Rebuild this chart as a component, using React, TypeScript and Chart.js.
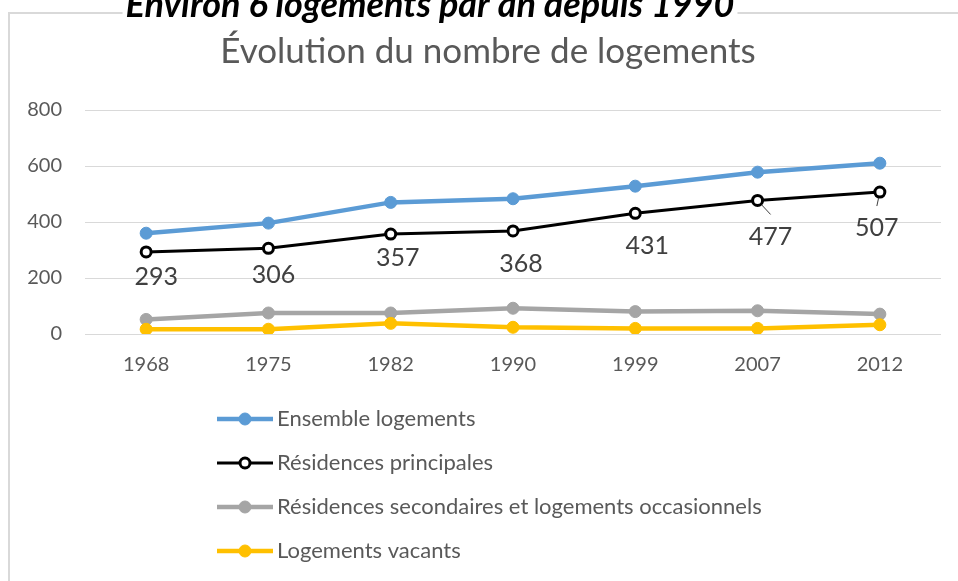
import React, { useEffect, useRef } from "react";
import { Chart, registerables } from "chart.js";

Chart.register(...registerables);

// ---- data ----
const years = ["1968", "1975", "1982", "1990", "1999", "2007", "2012"];
const ensemble = [360, 396, 470, 483, 528, 578, 610];
const principales = [293, 306, 357, 368, 431, 477, 507];
const secondaires = [52, 75, 75, 92, 80, 83, 71];
const vacants = [17, 17, 38, 24, 20, 20, 33];
const yTickValues = [0, 200, 400, 600, 800];
const seriesNames = [
  "Ensemble logements",
  "Résidences principales",
  "Résidences secondaires et logements occasionnels",
  "Logements vacants",
];
const supTitle = "Environ 6 logements par an depuis 1990";
const chartTitle = "Évolution du nombre de logements";

// label placement (relative to point), kept apart from the data
const labelOffsets = [
  [10, 25],
  [5, 27],
  [7, 24],
  [8, 33],
  [12, 33],
  [13, 36],
  [-3, 36],
];
const labelLeaders = [false, false, false, false, false, true, true];

const FONT = "Lato, 'Noto Sans', sans-serif";
const GREY_TEXT = "#595959";

const overlayPlugin = {
  id: "overlay",
  beforeDraw(chart: any) {
    const ctx = chart.ctx as CanvasRenderingContext2D;
    ctx.save();
    ctx.fillStyle = "#ffffff";
    ctx.fillRect(0, 0, chart.width, chart.height);
    // chart frame
    ctx.strokeStyle = "#d9d9d9";
    ctx.lineWidth = 2;
    ctx.beginPath();
    ctx.moveTo(9, chart.height);
    ctx.lineTo(9, 13);
    ctx.lineTo(chart.width, 13);
    ctx.stroke();
    // super title
    ctx.font = `italic bold 36px ${FONT}`;
    const w = ctx.measureText(supTitle).width;
    const cx = 430;
    ctx.fillStyle = "#ffffff";
    ctx.fillRect(cx - w / 2 - 3, 0, w + 6, 16);
    ctx.fillStyle = "#000000";
    ctx.textAlign = "center";
    ctx.textBaseline = "alphabetic";
    ctx.fillText(supTitle, cx, 17);
    // chart title
    ctx.font = `35px ${FONT}`;
    ctx.fillStyle = GREY_TEXT;
    ctx.fillText(chartTitle, 488, 63);
    ctx.restore();
  },
  afterDatasetsDraw(chart: any) {
    const ctx = chart.ctx as CanvasRenderingContext2D;
    const meta = chart.getDatasetMeta(1);
    ctx.save();
    ctx.font = `25px ${FONT}`;
    ctx.fillStyle = "#404040";
    ctx.textAlign = "center";
    ctx.textBaseline = "middle";
    meta.data.forEach((pt: any, i: number) => {
      const [dx, dy] = labelOffsets[i];
      const lx = pt.x + dx;
      const ly = pt.y + dy;
      ctx.fillText(String(principales[i]), lx, ly);
      if (labelLeaders[i]) {
        const ex = lx;
        const ey = ly - 22;
        const vx = ex - pt.x;
        const vy = ey - pt.y;
        const len = Math.hypot(vx, vy) || 1;
        ctx.strokeStyle = "#404040";
        ctx.lineWidth = 1;
        ctx.beginPath();
        ctx.moveTo(pt.x + (vx / len) * 6, pt.y + (vy / len) * 6);
        ctx.lineTo(ex, ey);
        ctx.stroke();
      }
    });
    ctx.restore();
  },
  afterDraw(chart: any) {
    const ctx = chart.ctx as CanvasRenderingContext2D;
    ctx.save();
    const datasets = chart.data.datasets;
    datasets.forEach((ds: any, i: number) => {
      const y = 419 + i * 44;
      ctx.strokeStyle = ds.borderColor;
      ctx.lineWidth = ds.borderWidth;
      ctx.beginPath();
      ctx.moveTo(217, y);
      ctx.lineTo(273, y);
      ctx.stroke();
      ctx.beginPath();
      ctx.arc(245, y, ds.pointRadius, 0, Math.PI * 2);
      ctx.fillStyle = ds.pointBackgroundColor;
      ctx.fill();
      ctx.lineWidth = ds.pointBorderWidth;
      ctx.strokeStyle = ds.pointBorderColor;
      ctx.stroke();
      ctx.font = `22px ${FONT}`;
      ctx.fillStyle = GREY_TEXT;
      ctx.textAlign = "left";
      ctx.textBaseline = "middle";
      ctx.fillText(ds.label, 277, y);
    });
    ctx.restore();
  },
};

export default function App() {
  const ref = useRef<HTMLCanvasElement | null>(null);

  useEffect(() => {
    if (!ref.current) return;
    const chart = new Chart(ref.current, {
      type: "line",
      data: {
        labels: years,
        datasets: [
          {
            label: seriesNames[0],
            data: ensemble,
            borderColor: "#5B9BD5",
            backgroundColor: "#5B9BD5",
            borderWidth: 4.5,
            pointRadius: 6,
            pointBackgroundColor: "#5B9BD5",
            pointBorderColor: "#5B9BD5",
            pointBorderWidth: 1,
            tension: 0,
            order: 3,
          },
          {
            label: seriesNames[1],
            data: principales,
            borderColor: "#000000",
            backgroundColor: "#ffffff",
            borderWidth: 3,
            pointRadius: 5,
            pointBackgroundColor: "#ffffff",
            pointBorderColor: "#000000",
            pointBorderWidth: 3,
            tension: 0,
            order: 2,
          },
          {
            label: seriesNames[2],
            data: secondaires,
            borderColor: "#A5A5A5",
            backgroundColor: "#A5A5A5",
            borderWidth: 4.5,
            pointRadius: 6,
            pointBackgroundColor: "#A5A5A5",
            pointBorderColor: "#A5A5A5",
            pointBorderWidth: 1,
            tension: 0,
            order: 1,
          },
          {
            label: seriesNames[3],
            data: vacants,
            borderColor: "#FFC000",
            backgroundColor: "#FFC000",
            borderWidth: 4.5,
            pointRadius: 6,
            pointBackgroundColor: "#FFC000",
            pointBorderColor: "#FFC000",
            pointBorderWidth: 1,
            tension: 0,
            order: 0,
          },
        ],
      },
      options: {
        animation: false,
        responsive: false,
        events: [],
        layout: { padding: { left: 0, right: 17, top: 110, bottom: 187 } },
        plugins: {
          legend: { display: false },
          title: { display: false },
          tooltip: { enabled: false },
        },
        scales: {
          x: {
            type: "category",
            offset: true,
            grid: { display: false },
            border: { display: false },
            ticks: {
              color: GREY_TEXT,
              font: { family: FONT, size: 20 },
              padding: 11,
              maxRotation: 0,
              autoSkip: false,
            },
            afterFit: (s: any) => {
              s.height = 60;
            },
          },
          y: {
            min: 0,
            max: 800,
            afterBuildTicks: (s: any) => {
              s.ticks = yTickValues.map((v) => ({ value: v }));
            },
            grid: { color: "#d9d9d9", lineWidth: 1, drawTicks: false },
            border: { display: false },
            ticks: {
              color: GREY_TEXT,
              font: { family: FONT, size: 20 },
              padding: 23,
            },
            afterFit: (s: any) => {
              s.width = 85;
            },
          },
        },
      },
      plugins: [overlayPlugin],
    });
    return () => chart.destroy();
  }, []);

  return (
    <div style={{ position: "fixed", left: 0, top: 0, width: 958, height: 581, background: "#fff" }}>
      <canvas ref={ref} width={958} height={581} style={{ display: "block" }} />
    </div>
  );
}
